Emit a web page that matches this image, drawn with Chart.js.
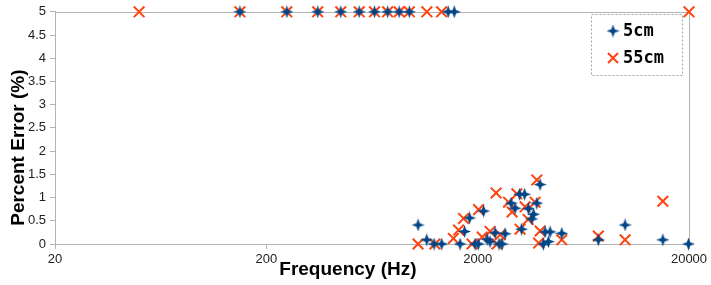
<!DOCTYPE html>
<html>
<head>
<meta charset="utf-8">
<script src="https://cdn.jsdelivr.net/npm/chart.js@4/dist/chart.umd.min.js"></script>
<style>
html,body{margin:0;padding:0;background:#fff;}
#wrap{width:711px;height:285px;position:relative;}
</style>
</head>
<body>
<div id="wrap"><canvas id="c" width="711" height="285"></canvas></div>
<script>
// ---- data ----
const seriesNames = ['5cm', '55cm'];
const xTickValues = [20, 200, 2000, 20000];
const yTickValues = [0, 0.5, 1, 1.5, 2, 2.5, 3, 3.5, 4, 4.5, 5];
const xAxisTitle = 'Frequency (Hz)';
const yAxisTitle = 'Percent Error (%)';

const freq5cm = [150,250,350,450,550,650,750,850,950,1045,1148,1244,1352,1450,1550,1651,1734,1831,1944,2015,2133,2216,2289,2418,2525,2609,2696,2878,3007,3158,3227,3335,3476,3607,3678,3809,3948,4093,4170,4322,4403,5000,7450,9970,15040,19880];
const err5cm  = [5,5,5,5,5,5,5,5,5,0.41,0.09,0,0,5,5,0,0.27,0.56,0,0,0.71,0.1,0.05,0.24,0,0,0.22,0.88,0.77,1.07,0.32,1.07,0.76,0.54,0.64,0.88,1.28,0,0.26,0.05,0.26,0.23,0.09,0.41,0.09,0];

const freq55cm = [50,150,250,350,450,550,650,750,850,950,1045,1150,1255,1350,1535,1625,1715,1880,2020,2100,2290,2445,2470,2555,2800,2910,3065,3175,3355,3465,3740,3810,3885,3950,5000,7450,9970,15040,20000];
const err55cm  = [5,5,5,5,5,5,5,5,5,5,0,5,0,5,0.12,0.3,0.55,0,0.74,0.15,0.27,1.1,0,0.2,0.9,0.69,1.08,0.32,0.8,0.53,0.9,1.38,0.02,0.28,0.09,0.17,0.09,0.92,5];

const BLUE = '#004586';
const ORANGE = '#ff420e';
const AXIS = '#b3b3b3';

// 4-point star marker for the 5cm series
function makeStar(size, color) {
  const cv = document.createElement('canvas');
  cv.width = size; cv.height = size;
  const g = cv.getContext('2d');
  const c = size / 2, r = size / 2, ri = size * 0.13;
  g.fillStyle = color;
  g.beginPath();
  g.moveTo(c, c - r);
  g.lineTo(c + ri, c - ri);
  g.lineTo(c + r, c);
  g.lineTo(c + ri, c + ri);
  g.lineTo(c, c + r);
  g.lineTo(c - ri, c + ri);
  g.lineTo(c - r, c);
  g.lineTo(c - ri, c - ri);
  g.closePath();
  g.fill();
  return cv;
}
const starImg = makeStar(13, BLUE);

const data5 = freq5cm.map((f, i) => ({x: f, y: err5cm[i]}));
const data55 = freq55cm.map((f, i) => ({x: f, y: err55cm[i]}));

const framePlugin = {
  id: 'frame',
  beforeDatasetsDraw(chart) {
    const {ctx, chartArea: a} = chart;
    ctx.save();
    ctx.strokeStyle = AXIS;
    ctx.lineWidth = 1;
    ctx.beginPath();
    ctx.moveTo(Math.round(a.left) + 0.5, Math.round(a.top) + 0.5);
    ctx.lineTo(Math.round(a.right) + 0.5, Math.round(a.top) + 0.5);
    ctx.lineTo(Math.round(a.right) + 0.5, Math.round(a.bottom) + 0.5);
    ctx.stroke();
    ctx.restore();
  },
  afterDraw(chart) {
    const {ctx, chartArea: a} = chart;
    ctx.save();
    ctx.fillStyle = '#000';
    ctx.font = 'bold 19px "Liberation Sans", Arial, sans-serif';
    ctx.textAlign = 'center';
    ctx.textBaseline = 'middle';
    ctx.fillText(xAxisTitle, a.left + (a.right - a.left) * 0.462, 270);
    ctx.translate(19, a.top + (a.bottom - a.top) * 0.585);
    ctx.rotate(-Math.PI / 2);
    ctx.fillText(yAxisTitle, 0, 0);
    ctx.restore();

    // legend box
    ctx.save();
    const bx = 591.5, by = 14.5, bw = 91, bh = 61;
    ctx.fillStyle = '#fff';
    ctx.fillRect(bx, by, bw, bh);
    ctx.strokeStyle = '#a0a0a0';
    ctx.setLineDash([2, 2]);
    ctx.lineWidth = 1;
    ctx.strokeRect(bx, by, bw, bh);
    ctx.setLineDash([]);
    const rows = [31, 58];
    chart.data.datasets.forEach((ds, i) => {
      const y = rows[i];
      if (i === 0) {
        ctx.drawImage(starImg, 613 - 6.5, y - 6.5);
      } else {
        ctx.strokeStyle = ORANGE;
        ctx.lineWidth = 2;
        ctx.beginPath();
        ctx.moveTo(608, y - 5); ctx.lineTo(618, y + 5);
        ctx.moveTo(618, y - 5); ctx.lineTo(608, y + 5);
        ctx.stroke();
      }
      ctx.fillStyle = '#000';
      ctx.font = 'bold 17px "DejaVu Sans Mono", "Liberation Mono", monospace';
      ctx.textAlign = 'left';
      ctx.textBaseline = 'middle';
      ctx.fillText(ds.label, 623, y + 1);
    });
    ctx.restore();
  }
};

new Chart(document.getElementById('c'), {
  type: 'scatter',
  data: {
    datasets: [
      {
        label: seriesNames[0],
        data: data5,
        pointStyle: starImg,
        pointRadius: 6,
        pointHoverRadius: 6,
        backgroundColor: BLUE,
        borderColor: BLUE,
        clip: false
      },
      {
        label: seriesNames[1],
        data: data55,
        pointStyle: 'crossRot',
        pointRadius: 7.5,
        pointHoverRadius: 7.5,
        borderWidth: 2,
        borderColor: ORANGE,
        backgroundColor: ORANGE,
        clip: false
      }
    ]
  },
  plugins: [framePlugin],
  options: {
    responsive: false,
    animation: false,
    events: [],
    layout: { padding: { top: 10, right: 22, left: 0, bottom: 0 } },
    plugins: { legend: { display: false }, tooltip: { enabled: false }, title: { display: false } },
    scales: {
      x: {
        type: 'logarithmic',
        min: 20,
        max: 20000,
        afterBuildTicks(scale) { scale.ticks = xTickValues.map(v => ({value: v})); },
        afterFit(scale) { scale.height = 41; },
        border: { display: true, color: AXIS, width: 1 },
        grid: { display: true, drawOnChartArea: false, drawTicks: true, tickLength: 5, color: AXIS },
        ticks: {
          autoSkip: false,
          maxRotation: 0,
          padding: 3,
          color: '#222',
          font: { family: '"Liberation Sans", Arial, sans-serif', size: 13 },
          callback: (v) => String(v)
        }
      },
      y: {
        type: 'linear',
        min: 0,
        max: 5,
        afterBuildTicks(scale) { scale.ticks = yTickValues.map(v => ({value: v})); },
        afterFit(scale) { scale.width = 55; },
        border: { display: true, color: AXIS, width: 1 },
        grid: { display: true, drawOnChartArea: false, drawTicks: true, tickLength: 5, color: AXIS },
        ticks: {
          padding: 4,
          color: '#222',
          font: { family: '"Liberation Sans", Arial, sans-serif', size: 13 },
          callback: (v) => String(v)
        }
      }
    }
  }
});
</script>
</body>
</html>
